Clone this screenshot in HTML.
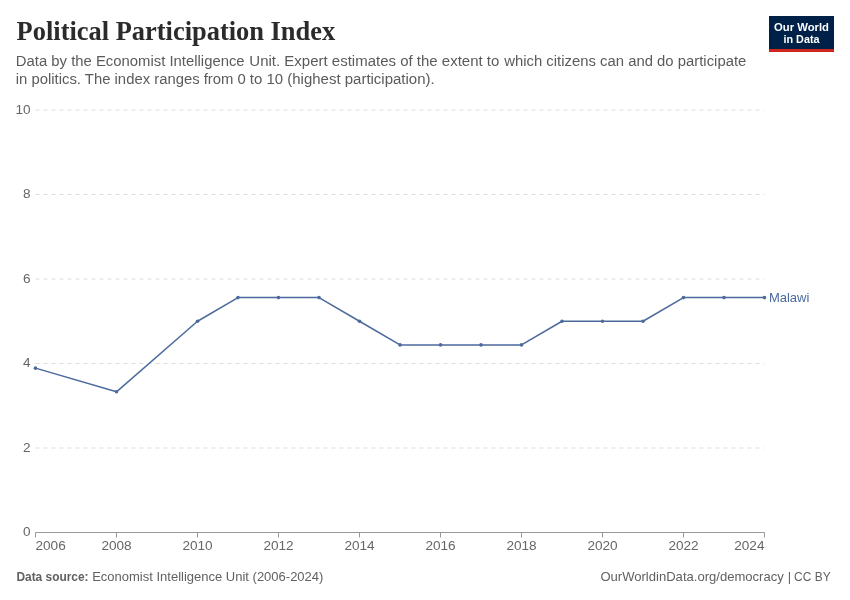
<!DOCTYPE html>
<html lang="en"><head><meta charset="utf-8"><title>Political Participation Index</title>
<style>
html,body{margin:0;padding:0;background:#fff;}
body{width:850px;height:600px;overflow:hidden;}
svg{display:block;font-family:"Liberation Sans",Arial,sans-serif;}
.title{font-family:"Liberation Serif","Times New Roman",serif;font-weight:700;font-size:26.5px;fill:#2b2b2b;}
.sub{font-size:14px;fill:#5b5b5b;}
.tick{font-size:13.6px;fill:#666;}
.foot{font-size:13px;fill:#616161;}
.grid line{stroke:#ddd;stroke-width:1;stroke-dasharray:4,4;}
.axis line{stroke:#999;stroke-width:1;}
.series path{fill:none;stroke:#4c6a9c;stroke-width:1.5;stroke-linejoin:round;stroke-linecap:round;}
.series circle{fill:#4c6a9c;}
.logo text{font-weight:700;font-size:11.5px;fill:#fff;text-anchor:middle;}
</style></head>
<body>
<svg width="850" height="600" viewBox="0 0 850 600">
<rect width="850" height="600" fill="#fff"/>
<text class="title" x="16.6" y="40" textLength="318.6" lengthAdjust="spacingAndGlyphs">Political Participation Index</text>
<text class="sub" x="15.84" y="66" textLength="228.82" lengthAdjust="spacingAndGlyphs">Data by the Economist Intelligence</text>
<text class="sub" x="249.39" y="66" textLength="249.93" lengthAdjust="spacingAndGlyphs">Unit. Expert estimates of the extent to</text>
<text class="sub" x="504.24" y="66" textLength="242.11" lengthAdjust="spacingAndGlyphs">which citizens can and do participate</text>
<text class="sub" x="15.79" y="84" textLength="230.06" lengthAdjust="spacingAndGlyphs">in politics. The index ranges from 0</text>
<text class="sub" x="249.81" y="84" textLength="184.85" lengthAdjust="spacingAndGlyphs">to 10 (highest participation).</text>
<g class="logo">
<rect x="769" y="16" width="65" height="36" fill="#002147"/>
<rect x="769" y="49" width="65" height="3" fill="#ce261e"/>
<text x="801.5" y="30.8" textLength="55" lengthAdjust="spacingAndGlyphs">Our World</text>
<text x="801.5" y="42.6" textLength="36" lengthAdjust="spacingAndGlyphs">in Data</text>
</g>
<g class="grid"><line x1="35.5" x2="764.5" y1="448.00" y2="448.00"/><line x1="35.5" x2="764.5" y1="363.50" y2="363.50"/><line x1="35.5" x2="764.5" y1="279.00" y2="279.00"/><line x1="35.5" x2="764.5" y1="194.50" y2="194.50"/><line x1="35.5" x2="764.5" y1="110.00" y2="110.00"/></g>
<g class="axis"><line x1="35.5" x2="764.5" y1="532.5" y2="532.5"/><line x1="35.50" x2="35.50" y1="532.5" y2="537.5"/><line x1="116.50" x2="116.50" y1="532.5" y2="537.5"/><line x1="197.50" x2="197.50" y1="532.5" y2="537.5"/><line x1="278.50" x2="278.50" y1="532.5" y2="537.5"/><line x1="359.50" x2="359.50" y1="532.5" y2="537.5"/><line x1="440.50" x2="440.50" y1="532.5" y2="537.5"/><line x1="521.50" x2="521.50" y1="532.5" y2="537.5"/><line x1="602.50" x2="602.50" y1="532.5" y2="537.5"/><line x1="683.50" x2="683.50" y1="532.5" y2="537.5"/><line x1="764.50" x2="764.50" y1="532.5" y2="537.5"/></g>
<g class="tick"><text x="30.5" y="536" text-anchor="end">0</text><text x="30.5" y="452" text-anchor="end">2</text><text x="30.5" y="367" text-anchor="end">4</text><text x="30.5" y="283" text-anchor="end">6</text><text x="30.5" y="198" text-anchor="end">8</text><text x="30.5" y="114" text-anchor="end">10</text><text x="35.50" y="550" text-anchor="start">2006</text><text x="116.50" y="550" text-anchor="middle">2008</text><text x="197.50" y="550" text-anchor="middle">2010</text><text x="278.50" y="550" text-anchor="middle">2012</text><text x="359.50" y="550" text-anchor="middle">2014</text><text x="440.50" y="550" text-anchor="middle">2016</text><text x="521.50" y="550" text-anchor="middle">2018</text><text x="602.50" y="550" text-anchor="middle">2020</text><text x="683.50" y="550" text-anchor="middle">2022</text><text x="764.50" y="550" text-anchor="end">2024</text></g>
<clipPath id="plotclip"><rect x="25" y="100" width="741.5" height="440"/></clipPath><g class="series" clip-path="url(#plotclip)"><path d="M35.50,368.15 L116.50,391.81 L197.50,321.25 L238.00,297.59 L278.50,297.59 L319.00,297.59 L359.50,321.25 L400.00,344.91 L440.50,344.91 L481.00,344.91 L521.50,344.91 L562.00,321.25 L602.50,321.25 L643.00,321.25 L683.50,297.59 L724.00,297.59 L764.50,297.59"/><circle cx="35.50" cy="368.15" r="1.8"/><circle cx="116.50" cy="391.81" r="1.8"/><circle cx="197.50" cy="321.25" r="1.8"/><circle cx="238.00" cy="297.59" r="1.8"/><circle cx="278.50" cy="297.59" r="1.8"/><circle cx="319.00" cy="297.59" r="1.8"/><circle cx="359.50" cy="321.25" r="1.8"/><circle cx="400.00" cy="344.91" r="1.8"/><circle cx="440.50" cy="344.91" r="1.8"/><circle cx="481.00" cy="344.91" r="1.8"/><circle cx="521.50" cy="344.91" r="1.8"/><circle cx="562.00" cy="321.25" r="1.8"/><circle cx="602.50" cy="321.25" r="1.8"/><circle cx="643.00" cy="321.25" r="1.8"/><circle cx="683.50" cy="297.59" r="1.8"/><circle cx="724.00" cy="297.59" r="1.8"/><circle cx="764.50" cy="297.59" r="1.8"/></g>
<text x="768.9" y="301.8" font-size="13" fill="#4c6a9c" textLength="40.5" lengthAdjust="spacingAndGlyphs">Malawi</text>
<text class="foot" x="16.4" y="580.7" font-weight="700" textLength="72.2" lengthAdjust="spacingAndGlyphs">Data source:</text>
<text class="foot" x="92.2" y="580.7" textLength="231.2" lengthAdjust="spacingAndGlyphs">Economist Intelligence Unit (2006-2024)</text>
<text class="foot" x="600.4" y="580.7" textLength="183.4" lengthAdjust="spacingAndGlyphs">OurWorldinData.org/democracy</text>
<text class="foot" x="787.7" y="580.7">|</text>
<text class="foot" x="794.1" y="580.7" textLength="36.5" lengthAdjust="spacingAndGlyphs">CC BY</text>
</svg>
</body></html>
